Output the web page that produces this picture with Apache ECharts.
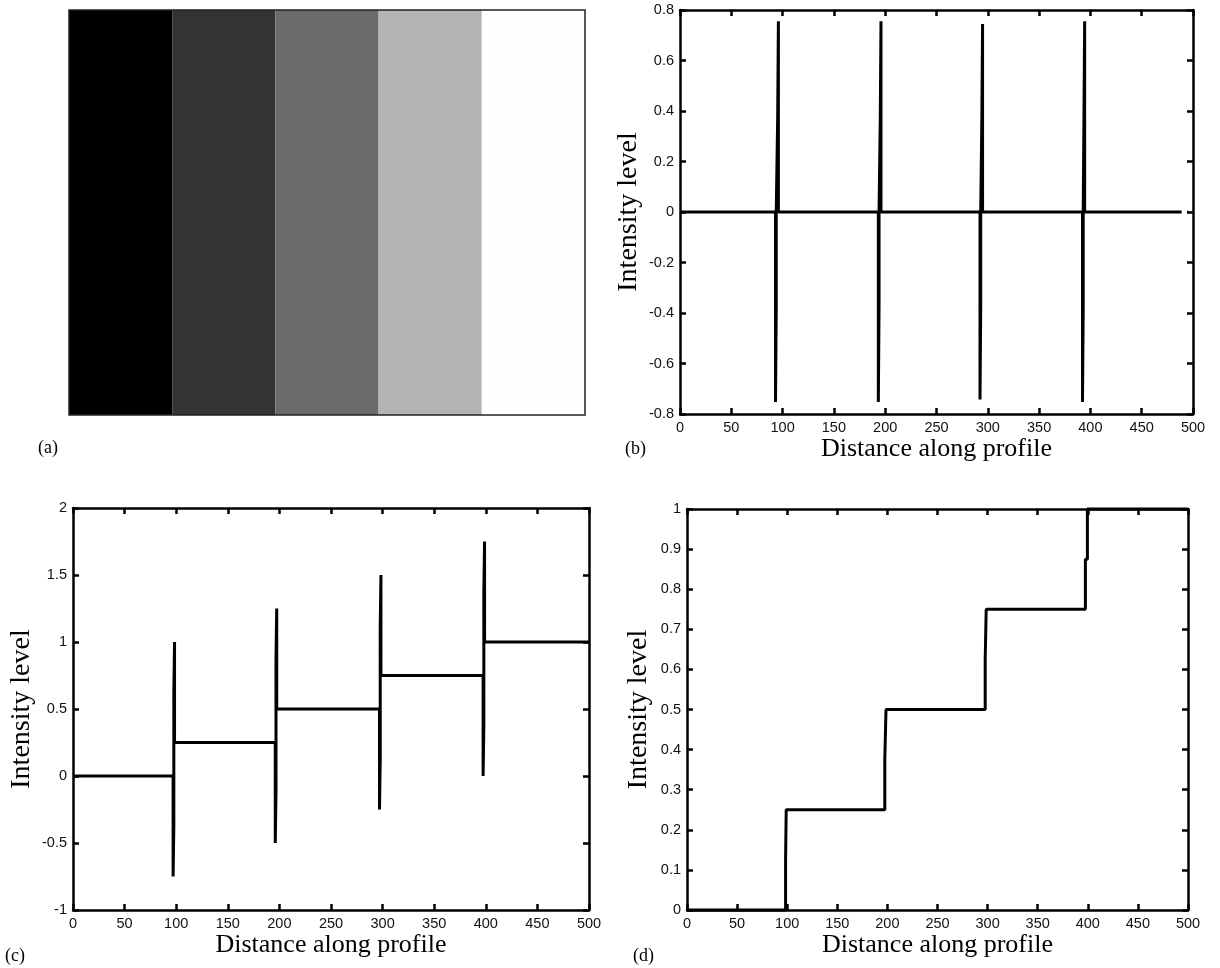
<!DOCTYPE html>
<html>
<head>
<meta charset="utf-8">
<script src="https://cdn.jsdelivr.net/npm/echarts@6/dist/echarts.min.js"></script>
<style>
html,body{margin:0;padding:0;background:#fff;}
#chart{width:1220px;height:968px;}
</style>
</head>
<body>
<div id="chart"></div>
<script>
// ---------- DATA ----------
// Panel (a): five gray stripes
const stripeNames = ['s1', 's2', 's3', 's4', 's5'];
const stripeGrays = ['#000000', '#333333', '#6b6b6b', '#b3b3b3', '#fefefe'];

// Panel (b): profile of the derivative-like response (x, intensity)
const profileB = [
  [0, 0], [93.1, 0], [93.1, -0.752], [93.8, -0.375], [93.8, 0],
  [95.2, 0], [95.2, 0.375], [95.9, 0.755], [95.9, 0],
  [193.3, 0], [193.3, -0.752], [194.0, -0.375], [194.0, 0],
  [195.2, 0], [195.2, 0.375], [195.9, 0.755], [195.9, 0],
  [292.4, 0], [292.4, -0.743], [293.1, -0.375], [293.1, 0],
  [294.2, 0], [294.2, 0.375], [294.9, 0.745], [294.9, 0],
  [392.3, 0], [392.3, -0.752], [393.0, -0.375], [393.0, 0],
  [393.7, 0], [393.7, 0.375], [394.4, 0.755], [394.4, 0],
  [489, 0], [491, '-'], [494.6, 0], [495.6, 0]
];

// Panel (c): step profile with overshoot spikes
const profileC = [
  [0, 0], [97.0, 0], [97.0, -0.75], [97.7, -0.375], [97.7, 0.625], [98.4, 1.0], [98.4, 0.25],
  [196.0, 0.25], [196.0, -0.5], [196.7, -0.125], [196.7, 0.875], [197.4, 1.25], [197.4, 0.5],
  [297.0, 0.5], [297.0, -0.25], [297.7, 0.125], [297.7, 1.125], [298.4, 1.5], [298.4, 0.75],
  [397.4, 0.75], [397.4, 0], [398.1, 0.375], [398.1, 1.375], [398.8, 1.75], [398.8, 1.0],
  [500, 1.0]
];

// Panel (d): clean staircase profile
const profileD = [
  [0, 0], [98.4, 0], [98.4, 0.125], [99.0, 0.125], [99.0, 0.25],
  [197.4, 0.25], [197.4, 0.375], [198.6, 0.375], [198.6, 0.5],
  [297.6, 0.5], [297.6, 0.625], [298.6, 0.625], [298.6, 0.75],
  [397.6, 0.75], [397.6, 0.875], [399.6, 0.875], [399.6, 1.0], [500, 1.0]
];

const xTitle = 'Distance along profile';
const yTitle = 'Intensity level';
const panelLetters = ['(a)', '(b)', '(c)', '(d)'];

// ---------- STYLE ----------
const tickFont = "'Liberation Sans Narrow', 'Arial Narrow', 'Liberation Sans', Arial, sans-serif";
const serifFont = "'Liberation Serif', 'Times New Roman', serif";
const axisLineStyle = { color: '#000', width: 2.5 };

const grids = [
  { left: 69, top: 10, width: 516, height: 405 },
  { left: 680, top: 10, width: 513, height: 404 },
  { left: 73, top: 508, width: 516, height: 402 },
  { left: 687, top: 509, width: 501, height: 401 }
];

function fmt(v) { return String(Math.round(v * 100) / 100); }

const xAxes = [];
const yAxes = [];

// panel (a) axes (hidden)
xAxes.push({ gridIndex: 0, type: 'category', data: stripeNames, show: false, boundaryGap: true });
yAxes.push({ gridIndex: 0, type: 'value', min: 0, max: 1, show: false });

function addPlotAxes(gi, yMin, yMax, yInt, yGap) {
  const common = {
    gridIndex: gi, type: 'value',
    axisLine: { show: true, onZero: false, lineStyle: axisLineStyle },
    axisTick: { show: true, inside: true, length: 6, lineStyle: { color: '#000', width: 2.5 } },
    splitLine: { show: false },
    z: 5
  };
  xAxes.push(Object.assign({}, common, {
    position: 'bottom', min: 0, max: 500, interval: 50,
    axisLabel: { color: '#111', fontFamily: tickFont, fontSize: 14.5, margin: 6, formatter: fmt },
    name: xTitle, nameLocation: 'middle', nameGap: 22,
    nameTextStyle: { color: '#000', fontFamily: serifFont, fontSize: 26 }
  }));
  xAxes.push(Object.assign({}, common, {
    position: 'top', min: 0, max: 500, interval: 50, axisLabel: { show: false }
  }));
  yAxes.push(Object.assign({}, common, {
    position: 'left', min: yMin, max: yMax, interval: yInt,
    axisLabel: { color: '#111', fontFamily: tickFont, fontSize: 14.5, margin: 6, formatter: fmt },
    name: yTitle, nameLocation: 'middle', nameGap: yGap,
    nameTextStyle: { color: '#000', fontFamily: serifFont, fontSize: 28 }
  }));
  yAxes.push(Object.assign({}, common, {
    position: 'right', min: yMin, max: yMax, interval: yInt, axisLabel: { show: false }
  }));
}
addPlotAxes(1, -0.8, 0.8, 0.2, 37);
addPlotAxes(2, -1, 2, 0.5, 37);
addPlotAxes(3, 0, 1, 0.1, 34);

const lineStyle = { color: '#000', width: 3 };
function lineSeries(data, xi, yi) {
  return {
    type: 'line', data: data, xAxisIndex: xi, yAxisIndex: yi,
    showSymbol: false, symbol: 'none', lineStyle: lineStyle, connectNulls: false,
    animation: false, clip: false, z: 3
  };
}

const option = {
  backgroundColor: '#ffffff',
  animation: false,
  grid: grids,
  xAxis: xAxes,
  yAxis: yAxes,
  series: [
    {
      type: 'bar', xAxisIndex: 0, yAxisIndex: 0,
      barCategoryGap: '0%', barWidth: '100%',
      data: stripeGrays.map(c => ({ value: 1, itemStyle: { color: c } })),
      animation: false
    },
    lineSeries(profileB, 1, 1),
    lineSeries(profileC, 3, 3),
    lineSeries(profileD, 5, 5)
  ],
  graphic: [
    { type: 'rect', z: 100, silent: true,
      shape: { x: grids[0].left, y: grids[0].top, width: grids[0].width, height: grids[0].height },
      style: { fill: 'none', stroke: '#222', lineWidth: 1.5 } },
    { type: 'text', left: 38, top: 439, style: { text: panelLetters[0], font: "18px " + serifFont, fill: '#000' } },
    { type: 'text', left: 625, top: 440, style: { text: panelLetters[1], font: "18px " + serifFont, fill: '#000' } },
    { type: 'text', left: 5, top: 947, style: { text: panelLetters[2], font: "18px " + serifFont, fill: '#000' } },
    { type: 'text', left: 633, top: 947, style: { text: panelLetters[3], font: "18px " + serifFont, fill: '#000' } }
  ]
};

const chart = echarts.init(document.getElementById('chart'), null, { renderer: 'canvas', width: 1220, height: 968 });
chart.setOption(option);
</script>
</body>
</html>
